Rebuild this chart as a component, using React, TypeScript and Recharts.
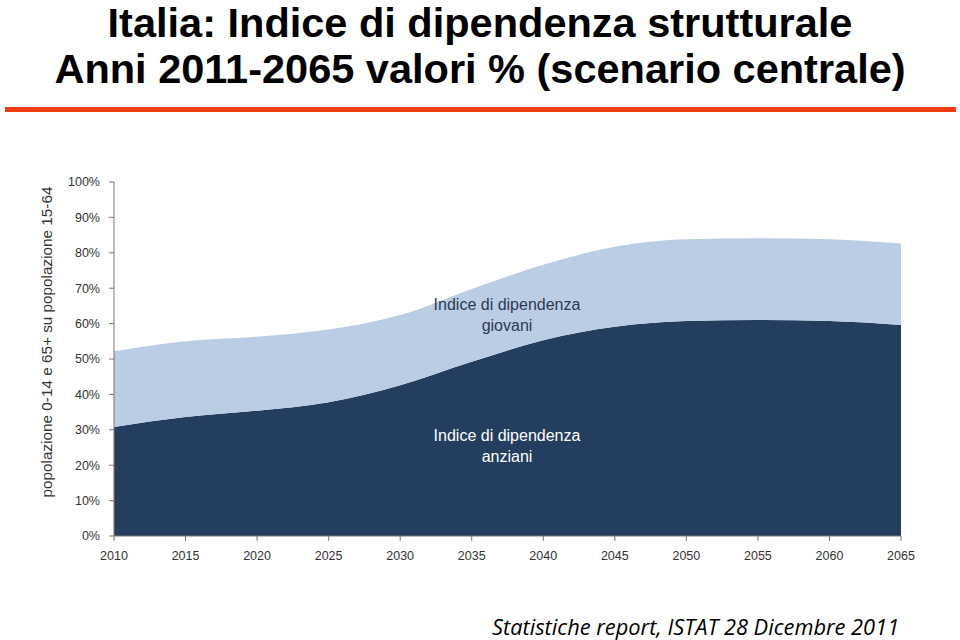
import React from "react";
import { AreaChart, Area, XAxis, YAxis } from "recharts";

const anni = [2010, 2015, 2020, 2025, 2030, 2035, 2040, 2045, 2050, 2055, 2060, 2065];
const anziani = [30.8, 33.6, 35.4, 37.8, 42.6, 49.2, 55.3, 59.1, 60.7, 61.0, 60.7, 59.6];
const totale = [52.2, 55.0, 56.3, 58.3, 62.4, 69.8, 76.6, 81.7, 83.8, 84.1, 83.8, 82.6];
const yTicks = [0, 10, 20, 30, 40, 50, 60, 70, 80, 90, 100];

const dati = anni.map((anno, i) => ({
  anno,
  anziani: anziani[i],
  giovani: +(totale[i] - anziani[i]).toFixed(1),
}));

const narrow = '"Liberation Sans Narrow", "Arial Narrow", "Liberation Sans", sans-serif';
const tickStyle = { fontSize: 12.5, fill: "#333", fontFamily: narrow };

const titolo = {
  position: "absolute" as const, left: 0, width: 960, textAlign: "center" as const, whiteSpace: "nowrap" as const,
  fontFamily: narrow, fontWeight: 700, fontSize: 41.5, lineHeight: "46px", color: "#000",
};

export default function App() {
  return (
    <div style={{ position: "absolute", left: 0, top: 0, width: 960, height: 640, background: "#fff", overflow: "hidden" }}>
      <div style={{ ...titolo, top: 0 }}>Italia: Indice di dipendenza strutturale</div>
      <div style={{ ...titolo, top: 46 }}>Anni 2011-2065 valori % (scenario centrale)</div>
      <div style={{ position: "absolute", left: 5, top: 107, width: 951, height: 5, background: "#F03C12" }} />

      <AreaChart
        width={960}
        height={640}
        data={dati}
        margin={{ top: 182, right: 59, left: 54, bottom: 74 }}
      >
        <XAxis
          dataKey="anno"
          type="number"
          domain={[2010, 2065]}
          ticks={anni}
          height={30}
          tick={tickStyle}
          tickSize={5}
          tickMargin={10}
          axisLine={{ stroke: "#777" }}
          tickLine={{ stroke: "#777" }}
        />
        <YAxis
          domain={[0, 100]}
          ticks={yTicks}
          width={60}
          tick={tickStyle}
          tickFormatter={(v) => `${v}%`}
          tickSize={5}
          tickMargin={9}
          axisLine={{ stroke: "#777" }}
          tickLine={{ stroke: "#777" }}
        />
        <Area type="monotone" dataKey="anziani" stackId="1" stroke="none" fill="#243E5F" fillOpacity={1} isAnimationActive={false} />
        <Area type="monotone" dataKey="giovani" stackId="1" stroke="none" fill="#BBCDE4" fillOpacity={1} isAnimationActive={false} />
      </AreaChart>

      <div style={{ position: "absolute", left: 47, top: 342, width: 0, height: 0 }}>
        <div
          style={{
            position: "absolute", left: 0, top: 0, transform: "translate(-50%, -50%) rotate(-90deg)",
            whiteSpace: "nowrap", fontFamily: narrow, fontSize: 15.3, color: "#333",
          }}
        >
          popolazione 0-14 e 65+ su popolazione 15-64
        </div>
      </div>

      <div
        style={{
          position: "absolute", left: 407, top: 294, width: 200, textAlign: "center",
          fontFamily: narrow, fontSize: 16, lineHeight: "21px", color: "#2B3A52",
        }}
      >
        Indice di dipendenza
        <br />
        giovani
      </div>
      <div
        style={{
          position: "absolute", left: 407, top: 425, width: 200, textAlign: "center",
          fontFamily: narrow, fontSize: 16, lineHeight: "21px", color: "#fff",
        }}
      >
        Indice di dipendenza
        <br />
        anziani
      </div>

      <div
        style={{
          position: "absolute", left: 492, top: 616, whiteSpace: "nowrap", lineHeight: "22px",
          fontFamily: '"Open Sans", "Noto Sans", sans-serif', fontStyle: "italic", fontSize: 21.8, color: "#000",
        }}
      >
        Statistiche report, ISTAT 28 Dicembre 2011
      </div>
    </div>
  );
}
